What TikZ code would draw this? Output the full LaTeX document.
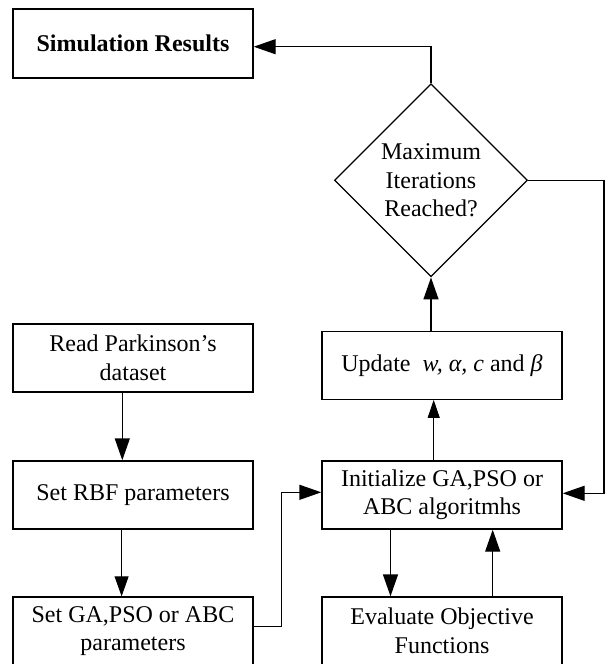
\documentclass[tikz,border=0pt]{standalone}
\usepackage{fontspec}
\setmainfont{Liberation Serif}
\usetikzlibrary{arrows.meta,shapes.geometric}
\begin{document}
\begin{tikzpicture}[x=1pt,y=-1pt,
  txt/.style={font=\fontsize{24}{28.5}\selectfont},
  box/.style={draw, line width=1.4pt, minimum width=240pt, minimum height=68pt, inner sep=0pt, align=center, txt},
  decision/.style={draw, diamond, aspect=1, line width=1.3pt, minimum width=193pt, minimum height=193pt, inner sep=0pt, align=center, txt},
  flowarrow/.style={line width=1.4pt, -{Triangle[length=22pt,width=15pt]}},
  thinflow/.style={line width=0.9pt, -{Triangle[length=20pt,width=14pt]}},
  smallflow/.style={line width=0.9pt, -{Triangle[length=18pt,width=12pt]}},
]
\useasboundingbox (0,0) rectangle (606,664);

\node[box, minimum height=69pt] (sim) at (133,43.3) {\textbf{Simulation Results}};
\node[decision] (dia) at (431,180.3) {Maximum\\Iterations\\Reached?};
\node[box] (read) at (133,358) {Read Parkinson’s\\dataset};
\node[box] (rbf) at (133,495) {Set RBF parameters};
\node[box] (setga) at (133,631) {Set GA,PSO or ABC\\parameters};
\node[box] (upd) at (442,365.2) {Update\ \ \textit{w, α, c} and \textit{β}};
\node[box] (init) at (442,495) {Initialize GA,PSO or\\ABC algoritmhs};
\node[box] (eval) at (442,631) {Evaluate Objective\\Functions};

\coordinate (loopR) at (604,493.3);
\coordinate (loopL) at (281.5,492.3);

\draw[flowarrow] (dia.north) |- ([yshift=-3.4pt]sim.east);
\draw[flowarrow] (dia.east) -| (loopR) -- (init.east |- loopR);
\draw[flowarrow] ([xshift=-10.7pt]read.south) -- ([xshift=-10.7pt]rbf.north);
\draw[thinflow] ([xshift=-11.4pt]rbf.south) -- ([xshift=-11.4pt]setga.north);
\draw[flowarrow] ([yshift=4.3pt]setga.east) -| (loopL) -- (init.west |- loopL);
\draw[smallflow] ([xshift=-8.3pt]init.north) -- ([xshift=-8.3pt]upd.south);
\draw[flowarrow] (upd.north -| dia.south) -- (dia.south);
\draw[flowarrow] ([xshift=-51.5pt]init.south) -- ([xshift=-51.5pt]eval.north);
\draw[flowarrow] ([xshift=50.7pt]eval.north) -- ([xshift=50.7pt]init.south);
\end{tikzpicture}
\end{document}
